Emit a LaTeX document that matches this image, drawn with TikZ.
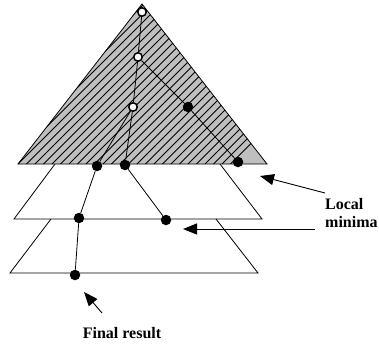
\documentclass[tikz,border=0pt]{standalone}
\usepackage{fontspec}
\setmainfont{Liberation Serif}
\usetikzlibrary{arrows.meta}
\begin{document}
\begin{tikzpicture}[x=1pt,y=-1pt,
  outline/.style={draw=black,line width=0.8pt},
  link/.style={draw=black,line width=0.8pt},
  opendot/.style={circle,draw=black,fill=white,line width=1.5pt,inner sep=0pt,minimum size=8.5pt},
  fulldot/.style={circle,fill=black,inner sep=0pt,minimum size=10.5pt},
  pointer/.style={draw=black,line width=0.9pt,-{Triangle[length=14pt,width=11pt]}},
  lbl/.style={font=\fontsize{16}{18}\selectfont\bfseries,align=left,inner sep=0pt}]
\useasboundingbox (0,0) rectangle (379,343);
% layers
\draw[outline] (51,219) -- (10,273) -- (258,273) -- (216,219);
\draw[outline] (55,164) -- (14,219) -- (262,219) -- (220,164);
% top hatched triangle
\fill[gray!50] (18,164) -- (142,4) -- (267,164) -- cycle;
\begin{scope}
\clip (18,164) -- (142,4) -- (267,164) -- cycle;
\foreach \i in {0,...,45} {
  \draw[line width=0.8pt] (18+\i*8.5-170,164) -- ++(170,-170);
}
\end{scope}
\draw[outline] (18,164) -- (142,4) -- (267,164) -- cycle;
% nodes
\node[opendot] (o1) at (142,12) {};
\node[opendot] (o2) at (138,57) {};
\node[opendot] (o3) at (133,107) {};
\node[fulldot] (f1) at (188,107) {};
\node[fulldot] (f2) at (238,162) {};
\node[fulldot] (f3) at (97,166) {};
\node[fulldot] (f4) at (125,165) {};
\node[fulldot] (f5) at (79,218) {};
\node[fulldot] (f6) at (166,220) {};
\node[fulldot] (f7) at (75,275) {};
% links
\draw[link] (o1) -- (o2);
\draw[link] (o2) -- (o3);
\draw[link] (o3) -- (f4);
\draw[link] (o3) -- (f3);
\draw[link] (o2) -- (f1);
\draw[link] (f1) -- (f2);
\draw[link] (f3) -- (f5);
\draw[link] (f5) -- (f7);
\draw[link] (f4) -- (f6);
% arrows and labels
\coordinate (a1s) at (325,193);
\coordinate (a1e) at (260,176);
\coordinate (a2s) at (315,229);
\coordinate (a2e) at (183,229);
\coordinate (a3s) at (102,313);
\coordinate (a3e) at (84,292);
\draw[pointer] (a1s) -- (a1e);
\draw[pointer] (a2s) -- (a2e);
\draw[pointer] (a3s) -- (a3e);
\node[lbl,anchor=west] (loc) at (325,213) {Local\\minima};
\node[lbl] (fin) at (122,333) {Final result};
\end{tikzpicture}
\end{document}
